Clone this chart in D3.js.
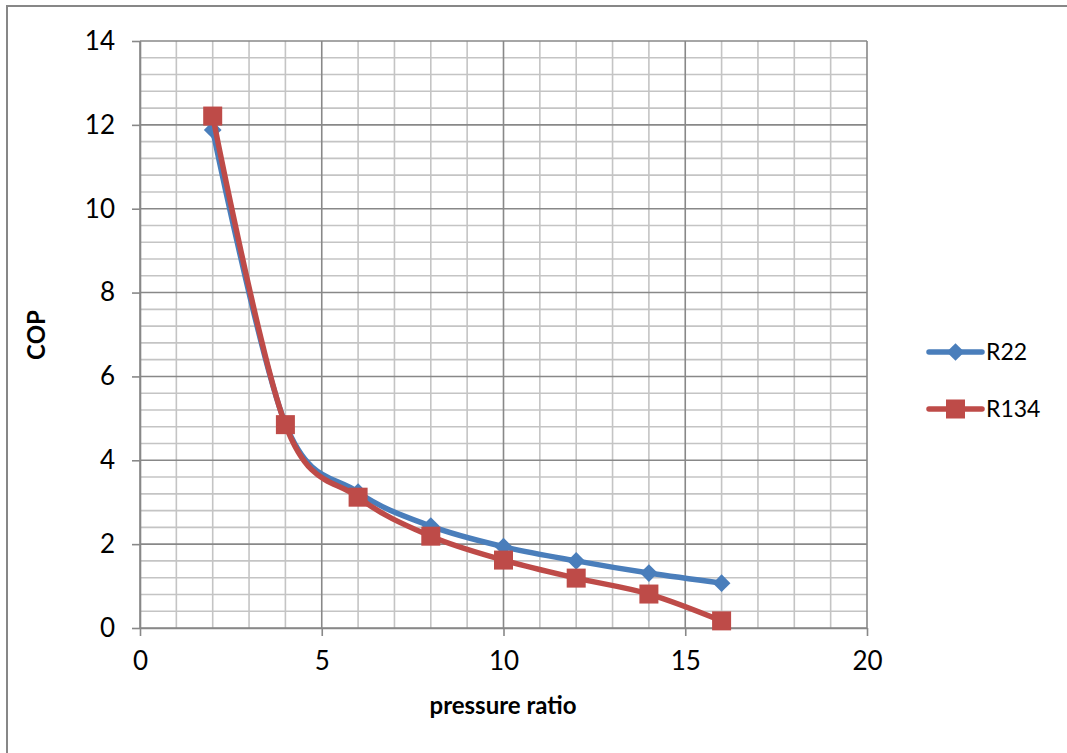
<!DOCTYPE html>
<html>
<head>
<meta charset="utf-8">
<script src="https://d3js.org/d3.v7.min.js"></script>
<style>
  body { margin: 0; background: #fff; }
  svg text { font-family: Lato, "Open Sans", sans-serif; fill: #000; }
</style>
</head>
<body>
<svg id="mainsvg"></svg>
<script>
// data
const pressureRatio = [2, 4, 6, 8, 10, 12, 14, 16];
const copR22  = [11.88, 4.87, 3.24, 2.43, 1.94, 1.6, 1.31, 1.07];
const copR134 = [12.21, 4.85, 3.12, 2.19, 1.62, 1.19, 0.81, 0.17];
const xTicks = [0, 5, 10, 15, 20];
const yTicks = [0, 2, 4, 6, 8, 10, 12, 14];

const width = 1067, height = 753;
const margin = { left: 140, right: 200, top: 41, bottom: 125 };

const svg = d3.select("#mainsvg")
    .attr("width", width)
    .attr("height", height);

// outer chart frame (only top / left are visible)
svg.append("rect")
    .attr("x", 7).attr("y", 6)
    .attr("width", width + 20).attr("height", height + 20)
    .attr("fill", "none")
    .attr("stroke", "#878787")
    .attr("stroke-width", 2);

const x = d3.scaleLinear([0, 20], [margin.left, width - margin.right]);
const y = d3.scaleLinear([0, 14], [height - margin.bottom, margin.top]);

// minor grid
const grid = svg.append("g");
grid.selectAll(".vminor")
    .data(d3.range(0, 21, 1).filter(d => d % 5 !== 0))
    .join("line")
    .attr("x1", d => x(d)).attr("x2", d => x(d))
    .attr("y1", y(0)).attr("y2", y(14))
    .attr("stroke", "#c4c4c4").attr("stroke-width", 1.6);
grid.selectAll(".hminor")
    .data(d3.range(0, 35).map(i => i * 0.4).filter((d, i) => i % 5 !== 0))
    .join("line")
    .attr("x1", x(0)).attr("x2", x(20))
    .attr("y1", d => y(d)).attr("y2", d => y(d))
    .attr("stroke", "#c4c4c4").attr("stroke-width", 1.6);

// major grid
grid.selectAll(".vmajor")
    .data(xTicks)
    .join("line")
    .attr("x1", d => x(d)).attr("x2", d => x(d))
    .attr("y1", y(0)).attr("y2", y(14))
    .attr("stroke", "#888").attr("stroke-width", 1.6);
grid.selectAll(".hmajor")
    .data(yTicks)
    .join("line")
    .attr("x1", x(0)).attr("x2", x(20))
    .attr("y1", d => y(d)).attr("y2", d => y(d))
    .attr("stroke", "#888").attr("stroke-width", 1.6);

// axes
const xAxis = svg.append("g")
    .attr("transform", `translate(0,${y(0)})`)
    .call(d3.axisBottom(x).tickValues(xTicks).tickSize(8).tickPadding(16).tickSizeOuter(0));
const yAxis = svg.append("g")
    .attr("transform", `translate(${x(0)},0)`)
    .call(d3.axisLeft(y).tickValues(yTicks).tickSize(8).tickPadding(17).tickSizeOuter(0));
[xAxis, yAxis].forEach(ax => {
    ax.select(".domain").attr("stroke", "#888").attr("stroke-width", 1.6);
    ax.selectAll(".tick line").attr("stroke", "#888").attr("stroke-width", 1.6);
    ax.selectAll(".tick text")
      .attr("fill", "#000")
      .attr("font-size", 26)
      .style("font-size", "26px")
      .style("font-family", "Lato, 'Open Sans', sans-serif");
});

// axis titles
svg.append("text")
    .attr("x", 503).attr("y", 714)
    .attr("text-anchor", "middle")
    .style("font-size", "24px").style("font-weight", "bold")
    .text("pressure ratio");
svg.append("text")
    .attr("transform", "translate(45,335) rotate(-90)")
    .attr("text-anchor", "middle")
    .style("font-size", "24px").style("font-weight", "bold")
    .text("COP");

const series = [
    { name: "R22", values: copR22, color: "#4a7ebb", marker: "diamond" },
    { name: "R134", values: copR134, color: "#be4b48", marker: "square" }
];

const line = d3.line()
    .x(d => x(d[0]))
    .y(d => y(d[1]))
    .curve(d3.curveCardinal.tension(0));

function drawMarker(g, s, cx, cy) {
    if (s.marker === "diamond") {
        g.append("path")
            .attr("d", d3.symbol(d3.symbolDiamond2, 200)())
            .attr("transform", `translate(${cx},${cy})`)
            .attr("fill", s.color);
    } else {
        g.append("rect")
            .attr("x", cx - 9.5).attr("y", cy - 9.5)
            .attr("width", 19).attr("height", 19)
            .attr("fill", s.color);
    }
}

series.forEach(s => {
    const pts = pressureRatio.map((p, i) => [p, s.values[i]]);
    const g = svg.append("g");
    g.append("path")
        .attr("d", line(pts))
        .attr("fill", "none")
        .attr("stroke", s.color)
        .attr("stroke-width", 5.5)
        .attr("stroke-linejoin", "round");
    pts.forEach(p => drawMarker(g, s, x(p[0]), y(p[1])));
});

// legend
const legend = svg.append("g");
series.forEach((s, i) => {
    const ly = 352 + i * 57;
    legend.append("line")
        .attr("x1", 929).attr("x2", 982)
        .attr("y1", ly).attr("y2", ly)
        .attr("stroke", s.color).attr("stroke-width", 5.5)
        .attr("stroke-linecap", "round");
    drawMarker(legend, s, 955.5, ly);
    legend.append("text")
        .attr("x", 986).attr("y", ly + 8)
        .style("font-size", "23px")
        .text(s.name);
});
</script>
</body>
</html>
